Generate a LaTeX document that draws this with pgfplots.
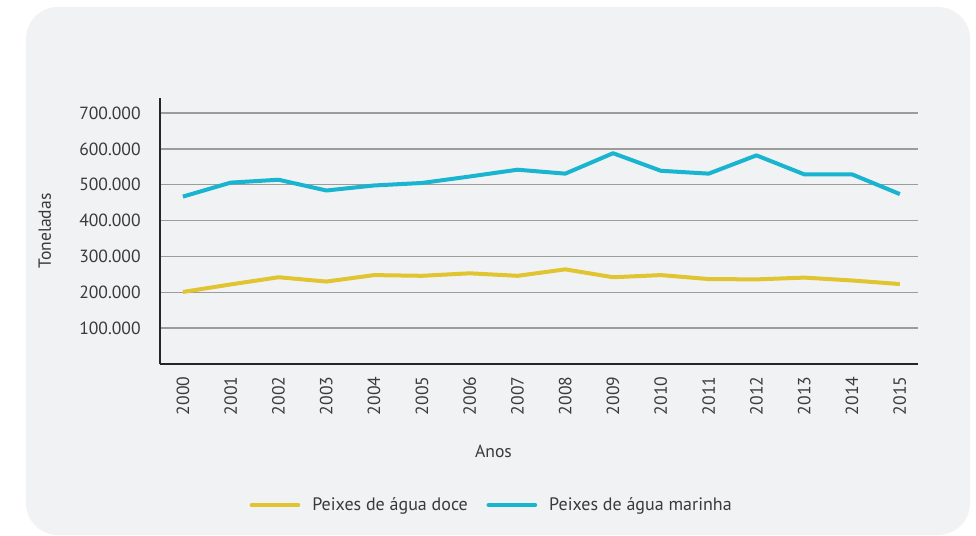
\documentclass[border=0pt]{standalone}
\usepackage{pgfplots}
\pgfplotsset{compat=1.18}
\usepackage{fontspec}
\setmainfont{PT Sans}
\definecolor{panel}{HTML}{F1F2F4}
\definecolor{txt}{HTML}{3A3A3A}
\definecolor{doce}{HTML}{E0C531}
\definecolor{marinha}{HTML}{19B4CF}
\definecolor{gridc}{HTML}{9C9C9C}

\begin{document}
\begin{tikzpicture}
% page = 976x536 px, 1 px = 0.75pt, origin at axis corner (160,364)
\path[use as bounding box, fill=white] (-120pt,-129pt) rectangle (612pt,273pt);
\fill[panel, rounded corners=24pt] (-100.5pt,-128.25pt) rectangle (607.5pt,267.75pt);
\begin{axis}[
  at={(0,0)}, anchor=south west,
  scale only axis,
  width=568.5pt, height=199.5pt,
  xmin=1999.52, xmax=2015.38,
  ymin=0, ymax=742000,
  axis lines=left,
  axis line style={-, line width=1.8pt, black!85},
  major tick length=0pt,
  xtick={2000,...,2015},
  ytick={100000,200000,...,700000},
  ymajorgrids,
  grid style={gridc, line width=1pt},
  scaled ticks=false,
  /pgf/number format/.cd, fixed, 1000 sep={.}, assume math mode=true,
  /pgfplots/.cd,
  xticklabel={\pgfmathprintnumber[1000 sep={}]{\tick}},
  ticklabel style={font=\fontsize{13.2}{15}\selectfont, text=txt},
  yticklabel style={xshift=-11pt},
  xticklabel style={yshift=-6pt, rotate=90, anchor=east},
  xlabel={Anos},
  ylabel={Toneladas},
  label style={font=\fontsize{13.2}{15}\selectfont, text=txt},
  xlabel style={at={(axis description cs:0.44,-0.33)}, anchor=center},
  ylabel style={at={(axis description cs:-0.152,0.5)}, anchor=center},
  legend columns=2,
  legend style={at={(0.438,-0.53)}, anchor=center, draw=none, fill=none,
    font=\fontsize{13.5}{15}\selectfont, text=txt,
    /tikz/every odd column/.append style={column sep=7pt},
    /tikz/every even column/.append style={column sep=12pt}},
  legend image code/.code={\draw[#1, line cap=round] (0pt,0pt) -- (35pt,0pt);},
]
\addplot[doce, line width=3pt, line join=round] coordinates {
  (2000,201000) (2001,222000) (2002,242000) (2003,230000)
  (2004,248000) (2005,246000) (2006,253000) (2007,246000)
  (2008,264000) (2009,242000) (2010,248000) (2011,237000)
  (2012,236000) (2013,241000) (2014,233000) (2015,223000)
};
\addlegendentry{Peixes de água doce}
\addplot[marinha, line width=3pt, line join=round] coordinates {
  (2000,467000) (2001,506000) (2002,514000) (2003,484000)
  (2004,498000) (2005,505000) (2006,523000) (2007,542000)
  (2008,531000) (2009,588000) (2010,539000) (2011,531000)
  (2012,582000) (2013,529000) (2014,529000) (2015,474000)
};
\addlegendentry{Peixes de água marinha}
\end{axis}
\end{tikzpicture}
\end{document}
